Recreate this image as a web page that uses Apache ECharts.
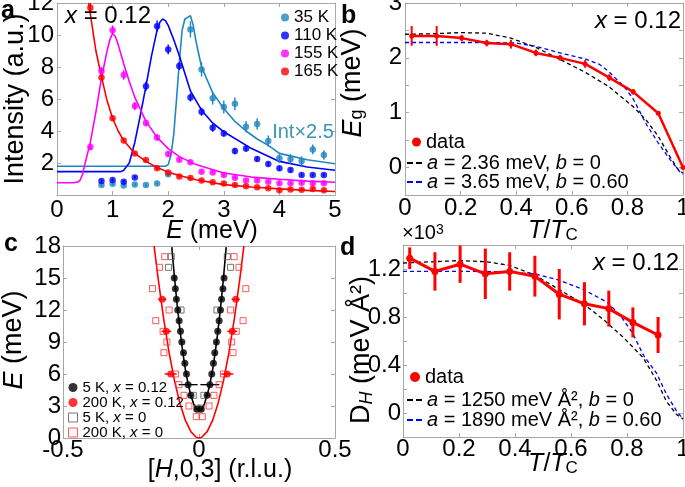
<!DOCTYPE html>
<html><head><meta charset="utf-8">
<script src="https://cdn.jsdelivr.net/npm/echarts@6/dist/echarts.min.js"></script>
<style>html,body{margin:0;padding:0;background:#fff}#c{width:685px;height:487px}</style>
</head><body><div id="c"></div>
<script>
// ---------- Panel a: intensity vs E ----------
const aE = [0.6,0.8,1.0,1.2,1.4,1.6,1.8,2.0,2.2,2.4,2.6,2.8,3.0,3.2,3.4,3.6,3.8,4.0,4.2,4.4,4.6,4.8];
const a35  = [null,0.63,0.7,0.6,0.65,0.62,0.72,1.3,null,10.35,7.85,6.05,5.5,5.7,4.27,4.44,3.37,2.29,2.25,2.12,2.85,2.5];
const a35err = [null,0.1,0.1,0.1,0.1,0.1,0.1,0.15,null,0.5,0.45,0.4,0.4,0.4,0.35,0.35,0.35,0.3,0.3,0.3,0.3,0.3];
const a110 = [null,0.88,0.94,0.83,1.1,6.8,10.55,9.1,8.06,6.1,5.2,4.2,3.85,2.75,2.9,2.25,1.94,1.67,1.56,1.25,1.25,1.25];
const a110err = [null,0.1,0.1,0.1,0.1,0.3,0.35,0.3,0.25,0.25,0.25,0.25,0.2,0.2,0.2,0.15,0.15,0.15,0.15,0.1,0.1,0.1];
const a155 = [3.0,7.75,10.3,7.5,5.56,4.5,3.6,2.56,2.2,2.04,1.45,1.4,1.25,1.08,0.9,0.9,0.83,0.73,0.73,0.77,0.73,0.73];
const a155err = [0.2,0.25,0.3,0.3,0.25,0.2,0.2,0.15,0.1,0.1,0.1,0.1,0.1,0.1,0.1,0.1,0.1,0.1,0.1,0.1,0.1,0.1];
const a165 = [11.7,7.35,4.8,3.4,2.6,2.19,1.67,1.4,1.15,1.06,0.9,0.8,0.72,0.62,0.55,0.48,0.42,0.3,0.35,0.33,0.38,0.3];
const a165err = [0.3,0.2,0.15,0.15,0.1,0.1,0.1,0.1,0.1,0.1,0.1,0.1,0.1,0.1,0.1,0.1,0.1,0.1,0.1,0.1,0.1,0.1];
// fitted curves
const fit35E = [0,1.95,2.0,2.05,2.1,2.15,2.2,2.25,2.3,2.35,2.4,2.45,2.5,2.6,2.8,3.0,3.2,3.4,3.6,3.8,4.0,4.5,5.0];
const fit35I = [1.8,1.8,1.9,2.5,3.8,6.0,8.3,10.3,11.0,11.1,11.2,10.6,9.6,8.0,6.4,5.4,4.6,4.0,3.5,3.1,2.6,2.2,1.95];
const fit110E = [0,1.15,1.2,1.3,1.4,1.5,1.6,1.7,1.8,1.85,1.9,1.95,2.0,2.1,2.2,2.4,2.6,2.8,3.0,3.5,4.0,4.5,5.0];
const fit110I = [1.46,1.46,1.55,2.0,3.3,5.0,6.8,8.7,10.3,10.8,11.0,10.9,10.6,9.7,8.7,6.5,5.3,4.5,3.95,2.9,2.1,1.75,1.55];
const fit155E = [0,0.3,0.38,0.42,0.46,0.5,0.55,0.6,0.7,0.8,0.9,0.95,1.0,1.05,1.1,1.2,1.3,1.4,1.6,1.8,2.0,2.2,2.5,3.0,3.5,4.0,4.5,5.0];
const fit155I = [0.77,0.77,0.82,0.95,1.3,1.9,2.6,3.3,5.2,7.3,9.0,9.7,10.1,9.9,9.4,8.2,7.1,6.1,4.6,3.6,2.9,2.4,1.9,1.38,1.12,0.98,0.87,0.8];
const fit165E = [0.57,0.6,0.7,0.8,0.9,1.0,1.1,1.2,1.4,1.6,1.8,2.0,2.2,2.5,3.0,3.5,4.0,4.5,5.0];
const fit165I = [12,11.3,9.0,7.4,5.9,4.8,4.0,3.4,2.6,2.1,1.72,1.43,1.22,0.95,0.65,0.5,0.38,0.29,0.22];

// ---------- Panel b: gap vs T/Tc ----------
const tTc = [0.024,0.114,0.204,0.294,0.381,0.471,0.558,0.648,0.735,0.821,0.911,1.0];
const bEg = [2.40,2.40,2.36,2.27,2.25,2.09,2.00,1.89,1.64,1.38,0.99,0.0];
const bErr = [0.18,0.18,0.06,0.06,0.08,0.06,0.05,0.07,0.06,0.05,0.03,0];
const bFitAT = [0,0.1,0.2,0.294,0.381,0.471,0.558,0.647,0.735,0.821,0.87,0.911,0.953,0.98,1.0];
const bFitA  = [2.43,2.44,2.46,2.45,2.36,2.19,1.97,1.74,1.47,1.11,0.85,0.57,0.2,-0.02,-0.1];
const bFitBT = [0,0.3,0.4,0.471,0.558,0.648,0.7,0.735,0.773,0.8,0.821,0.869,0.911,0.953,0.989,1.0];
const bFitB  = [2.28,2.28,2.27,2.21,2.09,1.98,1.88,1.74,1.55,1.4,1.25,0.78,0.45,0.15,-0.08,-0.12];

// ---------- Panel c: dispersion ----------
const cBlkE = [2.7,4,5,6,7,8,9,10,11,12,13,14,15];
const cBlkL = [-0.007,-0.03,-0.04,-0.046,-0.052,-0.057,-0.063,-0.068,-0.073,-0.078,-0.083,-0.087,-0.091];
const cBlkR = [0.007,0.03,0.04,0.047,0.053,0.058,0.064,0.069,0.074,0.079,0.083,0.088,0.092];
const cBlkErr = [0.006,0.01,0.035,0.005,0.005,0.005,0.005,0.005,0.005,0.005,0.005,0.005,0.005];
const cRedE = [6,10,13];
const cRedL = [-0.104,-0.12,-0.135];
const cRedR = [0.104,0.122,0.135];
const cRedErr = [0.022,0.018,0.015];
const cBsqE = [2.8,4,12,16,17];
const cBsqL = [-0.008,-0.021,-0.066,-0.112,-0.102];
const cBsqR = [0.008,0.018,0.066,0.116,0.104];
const cRsqE = [2,3,4,5,6,8,9,10,11,12,14,16,17];
const cRsqL = [-0.01,-0.037,-0.055,-0.074,-0.086,-0.129,-0.118,-0.132,-0.159,-0.11,-0.171,-0.145,-0.126];
const cRsqR = [0.012,0.037,0.055,0.074,0.09,0.125,0.12,0.137,0.162,0.116,0.172,0.147,0.129];
const cFitBlkH = [-0.1,-0.09,-0.08,-0.07,-0.06,-0.05,-0.04,-0.03,-0.02,-0.01,0,0.01,0.02,0.03,0.04,0.05,0.06,0.07,0.08,0.09,0.1];
const cFitBlkE = [17.9,15.0,12.4,10.1,8.1,6.4,5.05,4.0,3.2,2.75,2.6,2.75,3.2,4.0,5.05,6.4,8.1,10.1,12.4,15.0,17.9];
const cFitRedH = [-0.165,-0.15,-0.13,-0.11,-0.09,-0.07,-0.05,-0.03,-0.01,0,0.01,0.03,0.05,0.07,0.09,0.11,0.13,0.15,0.165];
const cFitRedE = [18,14.9,11.2,8.0,5.35,3.24,1.65,0.6,0.07,0,0.07,0.6,1.65,3.24,5.35,8.0,11.2,14.9,18];

// ---------- Panel d: stiffness vs T/Tc ----------
const dT = [0.024,0.114,0.204,0.294,0.381,0.471,0.558,0.648,0.735,0.821,0.911];
const dD = [1.29,1.18,1.24,1.16,1.18,1.14,0.99,0.91,0.87,0.755,0.65];
const dErr = [0.09,0.16,0.155,0.21,0.16,0.17,0.21,0.18,0.15,0.125,0.15];
const dFitAT = [0,0.1,0.2,0.3,0.38,0.47,0.55,0.65,0.72,0.787,0.858,0.906,0.94,0.976,1.0];
const dFitA  = [1.25,1.26,1.27,1.26,1.23,1.15,1.04,0.9,0.77,0.63,0.46,0.27,0.1,-0.01,-0.05];
const dFitBT = [0,0.3,0.47,0.554,0.643,0.732,0.78,0.819,0.859,0.906,0.94,0.976,1.0];
const dFitB  = [1.18,1.18,1.16,1.11,1.03,0.92,0.8,0.67,0.48,0.33,0.16,0.02,-0.05];

// ---------- helpers ----------
const FONT = '"Liberation Sans", Arial, Helvetica, sans-serif';
const AX = '#a8a8a8';
const TEAL = '#1f86c0', RED = '#ff0000', MAG = '#ff00ff', BLUE = '#0000ff';
const DASH_ICON = 'path://M0,0H6V2H0Z M9,0H15V2H9Z';

function pairs(xs, ys){ const o=[]; for(let i=0;i<xs.length;i++){ if(ys[i]!=null && xs[i]!=null) o.push([xs[i], ys[i]]); } return o; }
function vbars(xs, ys, es){ const o=[]; for(let i=0;i<xs.length;i++){ if(ys[i]!=null && es[i]) o.push([xs[i], ys[i]-es[i], ys[i]+es[i]]); } return o; }
function hbars(hs, ys, es){ const o=[]; for(let i=0;i<hs.length;i++){ if(es[i]) o.push([hs[i]-es[i], hs[i]+es[i], ys[i]]); } return o; }

function errSeries(g, data, color, w, horiz){
  return { type:'custom', xAxisIndex:2*g, yAxisIndex:2*g, data, silent:true, clip:true, z:3,
    encode: horiz ? {x:[0,1], y:2} : {x:0, y:[1,2]},
    renderItem: function(params, api){
      let p1, p2;
      if(!horiz){ const x=api.value(0); p1=api.coord([x, api.value(1)]); p2=api.coord([x, api.value(2)]); }
      else { const y=api.value(2); p1=api.coord([api.value(0), y]); p2=api.coord([api.value(1), y]); }
      return { type:'line', shape:{x1:p1[0],y1:p1[1],x2:p2[0],y2:p2[1]}, style:{stroke:color, lineWidth:w} };
    } };
}
function lineS(g, name, data, color, w, dash, z){
  return { type:'line', name, xAxisIndex:2*g, yAxisIndex:2*g, data, symbol:'none', showSymbol:false, silent:true, clip:true,
    lineStyle:{color, width:w, type: dash ? [4,3] : 'solid'}, itemStyle:{color}, z: z||2 };
}
function scat(g, name, data, color, size, symbol, open){
  return { type:'scatter', name, xAxisIndex:2*g, yAxisIndex:2*g, data, symbol: symbol||'circle', symbolSize:size, silent:true, clip:true,
    itemStyle: open ? {color:'rgba(0,0,0,0)', borderColor:color, borderWidth:1} : {color}, z:4 };
}
function xAxes(g, min, max, interval, margin, fmt){
  const base = { type:'value', gridIndex:g, min, max, interval, splitLine:{show:false},
    axisLine:{show:true, onZero:false, lineStyle:{color:AX, width:1}},
    axisTick:{show:true, inside:true, length:4, lineStyle:{color:AX}} };
  return [ Object.assign({}, base, {position:'bottom', axisLabel:{show:true, color:'#000', fontSize:24, fontFamily:FONT, margin, showMinLabel:true, showMaxLabel:true, formatter: fmt || (v=>String(v))}}),
           Object.assign({}, base, {position:'top', axisLabel:{show:false}}) ];
}
function yAxes(g, min, max, interval, margin, fmt){
  const base = { type:'value', gridIndex:g, min, max, interval, splitLine:{show:false},
    axisLine:{show:true, onZero:false, lineStyle:{color:AX, width:1}},
    axisTick:{show:true, inside:true, length:4, lineStyle:{color:AX}} };
  return [ Object.assign({}, base, {position:'left', axisLabel:{show:true, color:'#000', fontSize:24, fontFamily:FONT, margin, showMinLabel:true, showMaxLabel:true, formatter: fmt || (v=>String(v))}}),
           Object.assign({}, base, {position:'right', axisLabel:{show:false}}) ];
}
const rich = (fs) => ({
  i:{fontStyle:'italic', fontSize:fs, fontFamily:FONT, color:'#000', lineHeight:fs},
  n:{fontSize:fs, fontFamily:FONT, color:'#000', lineHeight:fs},
  sub:{fontSize:Math.round(fs*0.68), fontFamily:FONT, color:'#000', verticalAlign:'bottom', lineHeight:Math.round(fs*0.5)},
  isub:{fontSize:Math.round(fs*0.68), fontStyle:'italic', fontFamily:FONT, color:'#000', verticalAlign:'bottom', lineHeight:Math.round(fs*0.5)},
  sup:{fontSize:Math.round(fs*0.7), fontFamily:FONT, color:'#000', verticalAlign:'top', lineHeight:Math.round(fs*0.5)}
});
function txt(x, y, text, fs, opts){
  opts = opts || {};
  return { type:'text', x, y, rotation: opts.rot || 0, silent:true, z:100,
    style:{ text, fontSize:fs, fontFamily:FONT, fill: opts.color || '#000', fontWeight: opts.bold ? 'bold' : 'normal',
      align: opts.align || 'center', verticalAlign:'middle', rich: rich(fs) } };
}

const xAxis = [].concat(
  xAxes(0, 0, 5, 1, 3),
  xAxes(1, 0, 1, 0.2, 1),
  xAxes(2, -0.5, 0.5, 0.5, 0),
  xAxes(3, 0, 1, 0.2, 0)
);
const yAxis = [].concat(
  yAxes(0, 0, 12, 2, 3, v => v===0 ? '' : String(v)),
  yAxes(1, -0.5, 3, 0.5, 3, v => Number.isInteger(v) ? String(v) : ''),
  yAxes(2, 0, 18, 3, 2),
  yAxes(3, -0.2, 1.4, 0.2, 2, v => { const k=Math.round(v*10); return (k>=0 && k%4===0 && k<=12) ? String(v) : ''; })
);

const series = [
  // panel a
  lineS(0, 'f35', pairs(fit35E, fit35I), TEAL, 1.6),
  lineS(0, 'f110', pairs(fit110E, fit110I), BLUE, 1.6),
  lineS(0, 'f155', pairs(fit155E, fit155I), MAG, 1.6),
  lineS(0, 'f165', pairs(fit165E, fit165I), RED, 1.6),
  errSeries(0, vbars(aE, a35, a35err), TEAL, 1.4),
  errSeries(0, vbars(aE, a110, a110err), BLUE, 1.4),
  errSeries(0, vbars(aE, a155, a155err), MAG, 1.4),
  errSeries(0, vbars(aE, a165, a165err), RED, 1.4),
  scat(0, '35 K', pairs(aE, a35), TEAL, 6.5),
  scat(0, '110 K', pairs(aE, a110), BLUE, 6.5),
  scat(0, '155 K', pairs(aE, a155), MAG, 6.5),
  scat(0, '165 K', pairs(aE, a165), RED, 6.5),
  // panel b
  lineS(1, 'bFitA', pairs(bFitAT, bFitA), '#000', 1.3, true),
  lineS(1, 'bFitB', pairs(bFitBT, bFitB), BLUE, 1.3, true),
  errSeries(1, vbars(tTc, bEg, bErr), RED, 2),
  { type:'line', name:'bData', xAxisIndex:2, yAxisIndex:2, data: pairs(tTc, bEg), symbol:'circle', symbolSize:5, showSymbol:true, silent:true,
    lineStyle:{color:RED, width:2.5}, itemStyle:{color:RED}, z:5 },
  // panel c
  lineS(2, 'cFitRed', pairs(cFitRedH, cFitRedE), RED, 1.6),
  lineS(2, 'cFitBlk', pairs(cFitBlkH, cFitBlkE), '#000', 1.6),
  scat(2, 'c200K0', pairs(cRsqL, cRsqE).concat(pairs(cRsqR, cRsqE)), '#ff3030', 6, 'rect', true),
  scat(2, 'c5K0', pairs(cBsqL, cBsqE).concat(pairs(cBsqR, cBsqE)), '#555555', 6, 'rect', true),
  errSeries(2, hbars(cBlkL, cBlkE, cBlkErr).concat(hbars(cBlkR, cBlkE, cBlkErr)), '#000', 1.3, true),
  errSeries(2, hbars(cRedL, cRedE, cRedErr).concat(hbars(cRedR, cRedE, cRedErr)), RED, 1.5, true),
  scat(2, 'c5K012', pairs(cBlkL, cBlkE).concat(pairs(cBlkR, cBlkE)), '#000', 7),
  scat(2, 'c200K012', pairs(cRedL, cRedE).concat(pairs(cRedR, cRedE)), RED, 7),
  // panel d
  lineS(3, 'dFitA', pairs(dFitAT, dFitA), '#000', 1.3, true),
  lineS(3, 'dFitB', pairs(dFitBT, dFitB), BLUE, 1.3, true),
  errSeries(3, vbars(dT, dD, dErr), RED, 3),
  { type:'line', name:'dData', xAxisIndex:6, yAxisIndex:6, data: pairs(dT, dD), symbol:'circle', symbolSize:7, showSymbol:true, silent:true,
    lineStyle:{color:RED, width:3}, itemStyle:{color:RED}, z:5 }
];

const lgText = (fs) => ({ fontSize:fs, fontFamily:FONT, color:'#000', rich: rich(fs) });
const dashItem = (name, color) => ({ name, icon: DASH_ICON, itemStyle:{color, borderWidth:0} });
const legend = [
  { orient:'vertical', left:281, top:9, padding:0, itemGap:1, itemWidth:8, itemHeight:8, selectedMode:false,
    textStyle: lgText(17), data:[{name:'35 K',icon:'circle'},{name:'110 K',icon:'circle'},{name:'155 K',icon:'circle'},{name:'165 K',icon:'circle'}] },
  { left:412, top:132, padding:0, itemWidth:9, itemHeight:9, selectedMode:false, textStyle: lgText(20),
    data:[{name:'bData', icon:'circle'}], formatter: () => 'data' },
  { left:407, top:153, padding:0, itemWidth:15, itemHeight:2, selectedMode:false, textStyle: lgText(20),
    data:[dashItem('bFitA', '#000')], formatter: () => '{i|a} = 2.36 meV, {i|b} = 0' },
  { left:407, top:172, padding:0, itemWidth:15, itemHeight:2, selectedMode:false, textStyle: lgText(20),
    data:[dashItem('bFitB', BLUE)], formatter: () => '{i|a} = 3.65 meV, {i|b} = 0.60' },
  { orient:'vertical', left:68, top:380, padding:0, itemGap:0, itemWidth:9, itemHeight:9, selectedMode:false, textStyle: lgText(15),
    data:[{name:'c5K012',icon:'circle'},{name:'c200K012',icon:'circle'},
          {name:'c5K0',icon:'rect',itemStyle:{color:'rgba(0,0,0,0)',borderColor:'#555',borderWidth:1}},
          {name:'c200K0',icon:'rect',itemStyle:{color:'rgba(0,0,0,0)',borderColor:'#ff3030',borderWidth:1}}],
    formatter: n => ({c5K012:'5 K, {i|x} = 0.12', c200K012:'200 K, {i|x} = 0.12', c5K0:'5 K, {i|x} = 0', c200K0:'200 K, {i|x} = 0'})[n] },
  { left:410, top:367, padding:0, itemWidth:10, itemHeight:10, selectedMode:false, textStyle: lgText(20),
    data:[{name:'dData', icon:'circle'}], formatter: () => 'data' },
  { left:407, top:390, padding:0, itemWidth:15, itemHeight:2, selectedMode:false, textStyle: lgText(20),
    data:[dashItem('dFitA', '#000')], formatter: () => '{i|a} = 1250 meV Å², {i|b} = 0' },
  { left:407, top:410, padding:0, itemWidth:15, itemHeight:2, selectedMode:false, textStyle: lgText(20),
    data:[dashItem('dFitB', BLUE)], formatter: () => '{i|a} = 1890 meV Å², {i|b} = 0.60' }
];

const R90 = Math.PI/2;
const graphic = [
  txt(16, 99, '{n|Intensity (a.u.)}', 27, {rot:R90}),
  txt(212, 231, '{i|E}{n| (meV)}', 25),
  txt(353, 83, '{i|E}{sub|g}{n| (meV)}', 27, {rot:R90}),
  txt(553, 231, '{i|T}{n|/}{i|T}{sub|C}', 25),
  txt(14, 340, '{i|E}{n| (meV)}', 27, {rot:R90}),
  txt(220, 470, '{n|[}{i|H}{n|,0,3] (r.l.u.)}', 25),
  txt(362, 350, '{n|D}{isub|H}{n| (meV Å²)}', 27, {rot:R90}),
  txt(553, 464, '{i|T}{n|/}{i|T}{sub|C}', 25),
  txt(65, 16, '{i|x}{n| = 0.12}', 24, {align:'left'}),
  txt(681, 21, '{i|x}{n| = 0.12}', 24, {align:'right'}),
  txt(679, 263, '{i|x}{n| = 0.12}', 24, {align:'right'}),
  { type:'text', x:303, y:132, silent:true, z:100, style:{text:'Int×2.5', fontSize:20, fontFamily:FONT, fill:'#3a96b5', align:'center', verticalAlign:'middle'} },
  txt(402, 233, '{n|×10}{sup|3}', 20, {align:'left'}),
  { type:'text', x:1, y:11, silent:true, z:100, style:{text:'a', fontSize:25, fontWeight:'bold', fontFamily:FONT, fill:'#000', align:'left', verticalAlign:'middle'} },
  { type:'text', x:341, y:16, silent:true, z:100, style:{text:'b', fontSize:25, fontWeight:'bold', fontFamily:FONT, fill:'#000', align:'left', verticalAlign:'middle'} },
  { type:'text', x:4, y:244, silent:true, z:100, style:{text:'c', fontSize:25, fontWeight:'bold', fontFamily:FONT, fill:'#000', align:'left', verticalAlign:'middle'} },
  { type:'text', x:340, y:248, silent:true, z:100, style:{text:'d', fontSize:25, fontWeight:'bold', fontFamily:FONT, fill:'#000', align:'left', verticalAlign:'middle'} }
];

const chart = echarts.init(document.getElementById('c'), null, {renderer:'canvas'});
chart.setOption({
  animation:false,
  backgroundColor:'#fff',
  textStyle:{fontFamily:FONT},
  grid:[
    {left:57, top:3, width:278, height:192, containLabel:false, outerBoundsMode:'none'},
    {left:405, top:3, width:278, height:192, containLabel:false, outerBoundsMode:'none'},
    {left:63, top:246, width:272, height:192, containLabel:false, outerBoundsMode:'none'},
    {left:403, top:245, width:280, height:192, containLabel:false, outerBoundsMode:'none'}
  ],
  xAxis, yAxis, series, legend, graphic
});
</script></body></html>
